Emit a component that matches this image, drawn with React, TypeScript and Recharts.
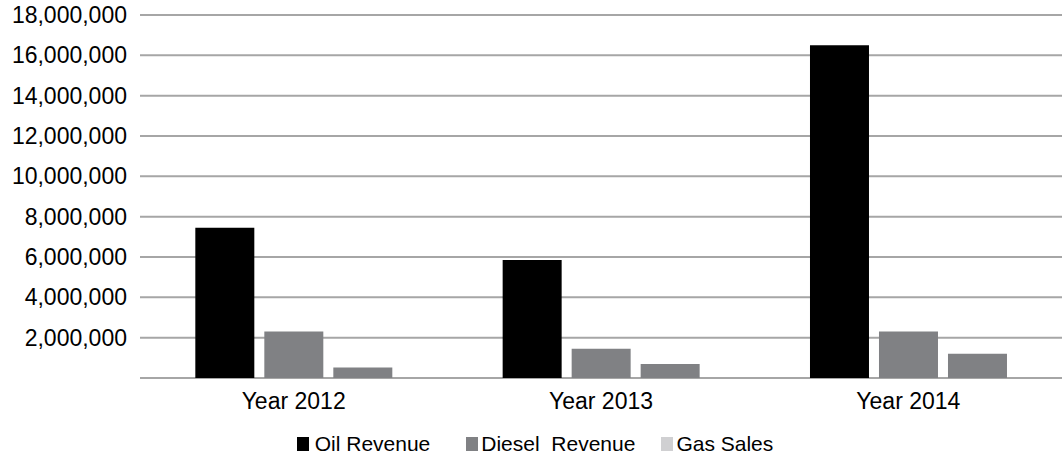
import React from "react";
import { BarChart, Bar, XAxis, YAxis, CartesianGrid, Legend } from "recharts";

const categories = ["Year 2012", "Year 2013", "Year 2014"];
const oilRevenue = [7450000, 5850000, 16500000];
const dieselRevenue = [2300000, 1450000, 2300000];
const gasSales = [520000, 700000, 1200000];
const yTicks = [0, 2000000, 4000000, 6000000, 8000000, 10000000, 12000000, 14000000, 16000000, 18000000];
const legendLabels = ["Oil Revenue", "Diesel  Revenue", "Gas Sales"];

const data = categories.map((c, i) => ({
  name: c,
  oil: oilRevenue[i],
  diesel: dieselRevenue[i],
  gas: gasSales[i],
}));

const FONT = "'Liberation Sans', Arial, sans-serif";
const legendColors = ["#000000", "#808184", "#d0d0d2"];
const legendGaps = [36, 26, 0];

const renderLegend = () => (
  <div
    style={{
      height: 44,
      boxSizing: "border-box",
      paddingTop: 18,
      display: "flex",
      justifyContent: "center",
      alignItems: "center",
      fontFamily: FONT,
      fontSize: 21,
      color: "#000",
      paddingLeft: 8,
    }}
  >
    {legendLabels.map((l, i) => (
      <div key={l} style={{ display: "flex", alignItems: "center", marginRight: legendGaps[i] }}>
        <span style={{ display: "inline-block", width: 12, height: 14, background: legendColors[i], marginRight: i === 0 ? 6 : 3 }} />
        <span style={{ whiteSpace: "pre" }}>{l}</span>
      </div>
    ))}
  </div>
);

const fmt = (v: number) => (v === 0 ? "" : v.toLocaleString("en-US"));

export default function App() {
  return (
    <div style={{ position: "absolute", left: 0, top: 0, background: "#fff" }}>
      <BarChart
        width={1062}
        height={457}
        data={data}
        margin={{ top: 15, right: 0, bottom: 0, left: 0 }}
        barCategoryGap="18%"
        barGap={10}
      >
        <CartesianGrid vertical={false} stroke="#a6a6a6" strokeWidth={2} />
        <XAxis
          dataKey="name"
          height={35}
          axisLine={false}
          tickLine={false}
          tick={{ fontSize: 23, fill: "#000", fontFamily: FONT }}
          tickMargin={9}
        />
        <YAxis
          width={140}
          domain={[0, 18000000]}
          ticks={yTicks}
          tickFormatter={fmt}
          axisLine={false}
          tickLine={false}
          tickMargin={7}
          tick={{ fontSize: 23, fill: "#000", fontFamily: FONT }}
          interval={0}
        />
        <Legend verticalAlign="bottom" content={renderLegend} />
        <Bar dataKey="oil" fill="#000000" isAnimationActive={false} />
        <Bar dataKey="diesel" fill="#808184" isAnimationActive={false} />
        <Bar dataKey="gas" fill="#808184" isAnimationActive={false} />
      </BarChart>
    </div>
  );
}
